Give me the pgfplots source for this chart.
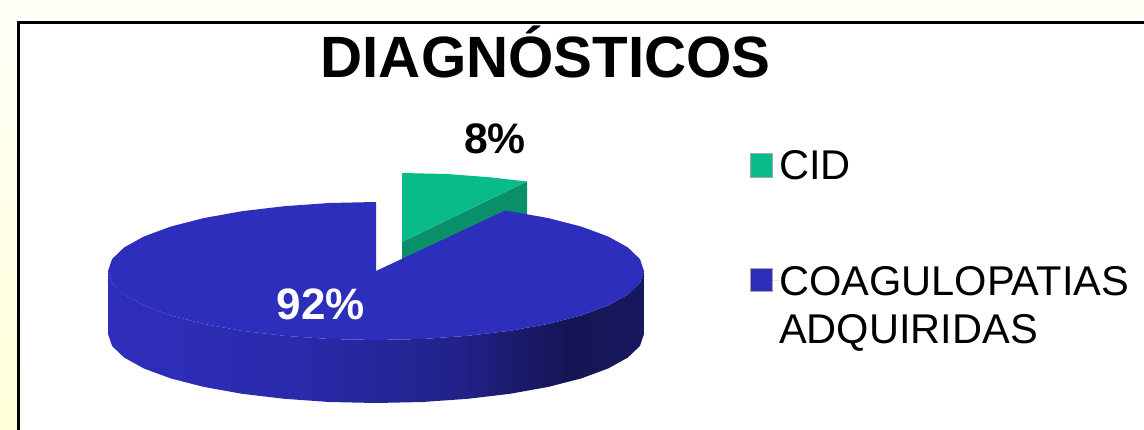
\documentclass[border=0pt]{standalone}
\usepackage{pgfplots}
\pgfplotsset{compat=1.18}
\usepackage{fontspec}
\setmainfont{Liberation Sans}

\definecolor{papertop}{HTML}{FFFFF8}
\definecolor{paperlow}{HTML}{FFFFD8}
\definecolor{bluetop}{HTML}{2E2EBC}
\definecolor{greentop}{HTML}{0ABB8A}
\definecolor{greenside}{HTML}{0A9068}
\pgfdeclarehorizontalshading{pieside}{100bp}{
  color(0bp)=(bluetop); color(25bp)=(bluetop);
  color(42bp)=(bluetop!92!black); color(58bp)=(bluetop!72!black);
  color(68bp)=(bluetop!45!black); color(72bp)=(bluetop!48!black);
  color(75bp)=(bluetop!52!black); color(100bp)=(bluetop!52!black)}

% outlines in picture pixels, y counted from the bottom
\begin{document}
\begin{tikzpicture}
\begin{axis}[
    scale only axis,
    width=858pt, height=321.75pt,
    xmin=0, xmax=1144, ymin=0, ymax=429,
    hide axis,
    clip=true,
    title={\fontsize{43.7pt}{48pt}\selectfont\bfseries DIAGNÓSTICOS},
    title style={at={(0.477,0.80)},anchor=base,inner sep=0pt},
    legend style={at={(0.6556,0.65)},anchor=north west,draw=none,fill=none,
        inner sep=0pt,outer sep=0pt,row sep=60.75pt,
        nodes={inner sep=0pt,outer sep=0pt},
        font=\fontsize{31.2pt}{36pt}\selectfont},
    legend cell align=left,
    legend image code/.code={
        \path (0pt,0pt) -- (21.75pt,0pt);
        \fill[#1,draw=black!35,line width=0.3pt] (0pt,-8.5pt) rectangle (16.5pt,9pt);},
]
% page and frame
\addplot[forget plot,draw=none,top color=papertop,bottom color=paperlow] coordinates {(0,0) (1144,0) (1144,429) (0,429)} -- cycle;
\addplot[forget plot,fill=white,draw=black,line width=2.4pt] coordinates {(18.5,-5) (18.5,406.5) (1150,406.5) (1150,-5)} -- cycle;

% CID, pulled out of the pie
\addplot[forget plot,draw=none,fill=greenside] coordinates {(402,187) (527,247.5) (527,184.5) (402,124)} -- cycle;
\addplot[draw=none,fill=greentop] coordinates {
    (402,187) (402,256) (447,255) (489,251.8) (527,247.5)} -- cycle;
\addlegendentry{CID}

% rim of the big slice
\addplot[forget plot,draw=none,shade,shading=pieside] coordinates {
    (644,158) (639.9,146) (627.8,134.4) (608.1,123.5) (581.3,113.6) (548.3,105.1)
    (510,98.2) (467.7,93.2) (422.5,90) (376,89) (329.5,90) (284.3,93.2) (242,98.2)
    (203.7,105.1) (170.7,113.6) (143.9,123.5) (124.2,134.4) (112.1,146) (108,158)
    (108,95) (112.1,83) (124.2,71.4) (143.9,60.5) (170.7,50.6) (203.7,42.1) (242,35.2)
    (284.3,30.2) (329.5,27) (376,26) (422.5,27) (467.7,30.2) (510,35.2) (548.3,42.1)
    (581.3,50.6) (608.1,60.5) (627.8,71.4) (639.9,83) (644,95)} -- cycle;

% COAGULOPATIAS ADQUIRIDAS
\addplot[draw=none,fill=bluetop] coordinates {
    (376,158) (505.1,218.5) (510,217.8) (548.3,210.9) (581.3,202.4) (608.1,192.5)
    (627.8,181.6) (639.9,170) (644,158) (639.9,146) (627.8,134.4) (608.1,123.5)
    (581.3,113.6) (548.3,105.1) (510,98.2) (467.7,93.2) (422.5,90) (376,89)
    (329.5,90) (284.3,93.2) (242,98.2) (203.7,105.1) (170.7,113.6) (143.9,123.5)
    (124.2,134.4) (112.1,146) (108,158) (112.1,170) (124.2,181.6) (143.9,192.5)
    (170.7,202.4) (203.7,210.9) (242,217.8) (284.3,222.8) (329.5,226) (376,227)} -- cycle;
\addlegendentry{\begin{tabular}[t]{@{}l@{}}COAGULOPATIAS\\ADQUIRIDAS\end{tabular}}

\node[anchor=base,font=\fontsize{32pt}{36pt}\selectfont\bfseries] at (axis cs:495,276) {8\%};
\node[anchor=base,text=white,font=\fontsize{33pt}{36pt}\selectfont\bfseries] at (axis cs:321,110) {92\%};
\end{axis}
\end{tikzpicture}
\end{document}
